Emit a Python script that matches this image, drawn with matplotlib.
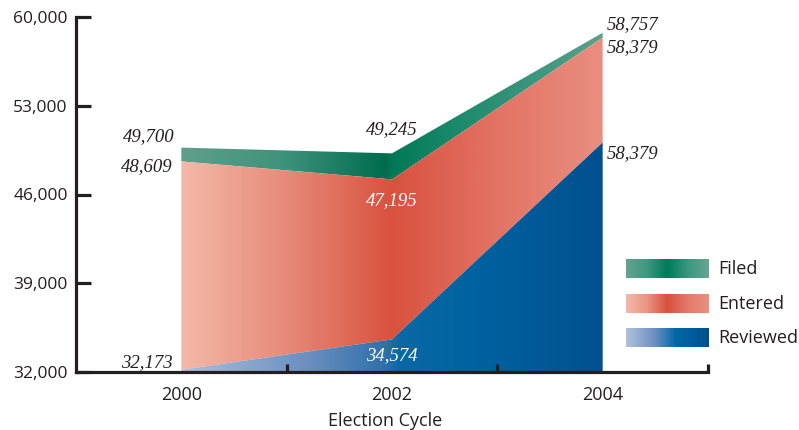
import numpy as np
import matplotlib
matplotlib.use("Agg")
import matplotlib.pyplot as plt
from matplotlib.colors import LinearSegmentedColormap, to_rgb
from matplotlib.patches import PathPatch
from matplotlib.path import Path

# ---- data ----
years = ["2000", "2002", "2004"]
filed = [49700, 49245, 58757]
entered = [48609, 47195, 58379]
reviewed = [32173, 34574, 50100]
filed_labels = ["49,700", "49,245", "58,757"]
entered_labels = ["48,609", "47,195", "58,379"]
reviewed_labels = ["32,173", "34,574", "58,379"]
series_names = ["Filed", "Entered", "Reviewed"]
yticks = [32000, 39000, 46000, 53000, 60000]
ytick_labels = ["32,000", "39,000", "46,000", "53,000", "60,000"]
xlabel = "Election Cycle"

# ---- styles ----
INK = "#231f20"
SANS = ["Open Sans", "DejaVu Sans"]
SERIF = ["Liberation Serif", "DejaVu Serif"]

grad_filed = [(0.0, "#5fa08c"), (0.5, "#3d917a"), (0.97, "#006c4e"), (1.0, "#007856"), (1.3, "#1b8a6c"), (2.0, "#5aa08c")]
grad_entered = [(0.0, "#f4b9a9"), (0.5, "#e68a78"), (1.0, "#d9513f"), (1.5, "#e37364"), (2.0, "#e98f80")]
grad_reviewed = [(0.0, "#abbfdc"), (0.6, "#6b8fc0"), (0.97, "#2f70ab"), (1.03, "#0a69a5"), (1.4, "#0062a0"), (2.0, "#005090")]

leg_filed = [(0.0, "#62a590"), (0.25, "#3f9880"), (0.5, "#007a5a"), (0.75, "#3a977e"), (1.0, "#66a794")]
leg_entered = [(0.0, "#f5b9a9"), (0.25, "#ea9484"), (0.5, "#d9503f"), (0.75, "#e57a6b"), (1.0, "#ea9080")]
leg_reviewed = [(0.0, "#b1c1dd"), (0.35, "#6d8fc0"), (0.6, "#0068a5"), (1.0, "#00508f")]


def make_cmap(stops, xmin, xmax):
    pos = [(p - xmin) / (xmax - xmin) for p, _ in stops]
    cols = [to_rgb(c) for _, c in stops]
    return LinearSegmentedColormap.from_list("g", list(zip(pos, cols)))


fig = plt.figure(figsize=(7.99, 4.30), dpi=100)
W, H = 799, 430
ax = fig.add_axes([76 / W, (H - 372) / H, (708 - 76) / W, (372 - 17) / H])
ax.set_xlim(-0.5, 2.5)
ax.set_ylim(32000, 60000)

x = np.arange(len(years))
base = [32000] * len(years)


def grad_fill(lower, upper, stops, z):
    verts = list(zip(x, upper)) + list(zip(x[::-1], lower[::-1]))
    path = Path(verts + [verts[0]], closed=True)
    patch = PathPatch(path, facecolor="none", edgecolor="none", transform=ax.transData)
    ax.add_patch(patch)
    cmap = make_cmap(stops, 0, 2)
    img = np.linspace(0, 1, 600).reshape(1, -1)
    im = ax.imshow(img, cmap=cmap, extent=[0, 2, 32000, 60000], aspect="auto",
                   origin="lower", zorder=z, interpolation="bilinear")
    im.set_clip_path(patch)


grad_fill(entered, filed, grad_filed, 1)
grad_fill(reviewed, entered, grad_entered, 1)
grad_fill(base, reviewed, grad_reviewed, 1)

# axes styling
for s in ["top", "right"]:
    ax.spines[s].set_visible(False)
for s in ["left", "bottom"]:
    ax.spines[s].set_linewidth(2.3)
    ax.spines[s].set_color(INK)
    ax.spines[s].set_zorder(5)

ax.set_yticks(yticks)
ax.set_yticklabels(ytick_labels, fontsize=12.5, family=SANS, color=INK)
ax.tick_params(axis="y", direction="in", length=11, width=2.3, color=INK, pad=6)

ax.set_xticks(x)
ax.set_xticklabels(years, fontsize=13, family=SANS, color=INK)
ax.tick_params(axis="x", which="major", length=0, pad=10)
ax.set_xticks([0.5, 1.5, 2.5], minor=True)
ax.tick_params(axis="x", which="minor", direction="in", length=6, width=2.3, color=INK)
ax.set_xlabel(xlabel, fontsize=13, family=SANS, color=INK)
ax.xaxis.set_label_coords((385 - 76) / 632, -(418 - 372) / 355, transform=None) if False else None
ax.xaxis.label.set_position((0.489, 0))
ax.xaxis.labelpad = 6

# data labels
lab_kw = dict(textcoords="offset points", fontsize=13.5, family=SERIF, style="italic", zorder=6)
# 2000
ax.annotate(filed_labels[0], (0, filed[0]), xytext=(-5, 8), ha="right", va="center", color=INK, **lab_kw)
ax.annotate(entered_labels[0], (0, entered[0]), xytext=(-6, -4), ha="right", va="center", color=INK, **lab_kw)
ax.annotate(reviewed_labels[0], (0, reviewed[0]), xytext=(-6, 5), ha="right", va="center", color=INK, **lab_kw)
# 2002
ax.annotate(filed_labels[1], (1, filed[1]), xytext=(0, 17), ha="center", va="center", color=INK, **lab_kw)
ax.annotate(entered_labels[1], (1, entered[1]), xytext=(0, -15), ha="center", va="center", color="white", **lab_kw)
ax.annotate(reviewed_labels[1], (1, reviewed[1]), xytext=(0, -12), ha="center", va="center", color="white", **lab_kw)
# 2004
ax.annotate(filed_labels[2], (2, filed[2]), xytext=(3, 6), ha="left", va="center", color=INK, **lab_kw)
ax.annotate(entered_labels[2], (2, entered[2]), xytext=(3, -7), ha="left", va="center", color=INK, **lab_kw)
ax.annotate(reviewed_labels[2], (2, reviewed[2]), xytext=(3, -8), ha="left", va="center", color=INK, **lab_kw)

# legend
leg_grads = [leg_filed, leg_entered, leg_reviewed]
leg_tops = [259, 294, 328]
for name, stops, top in zip(series_names, leg_grads, leg_tops):
    lax = fig.add_axes([626 / W, (H - top - 19) / H, 83 / W, 19 / H])
    lax.imshow(np.linspace(0, 1, 300).reshape(1, -1), cmap=make_cmap(stops, 0, 1),
               aspect="auto", interpolation="bilinear")
    lax.set_axis_off()
    fig.text(718 / W, (H - top - 10) / H, name, fontsize=13, family=SANS, color=INK,
             ha="left", va="center")

fig.savefig("out.png", dpi=100)
